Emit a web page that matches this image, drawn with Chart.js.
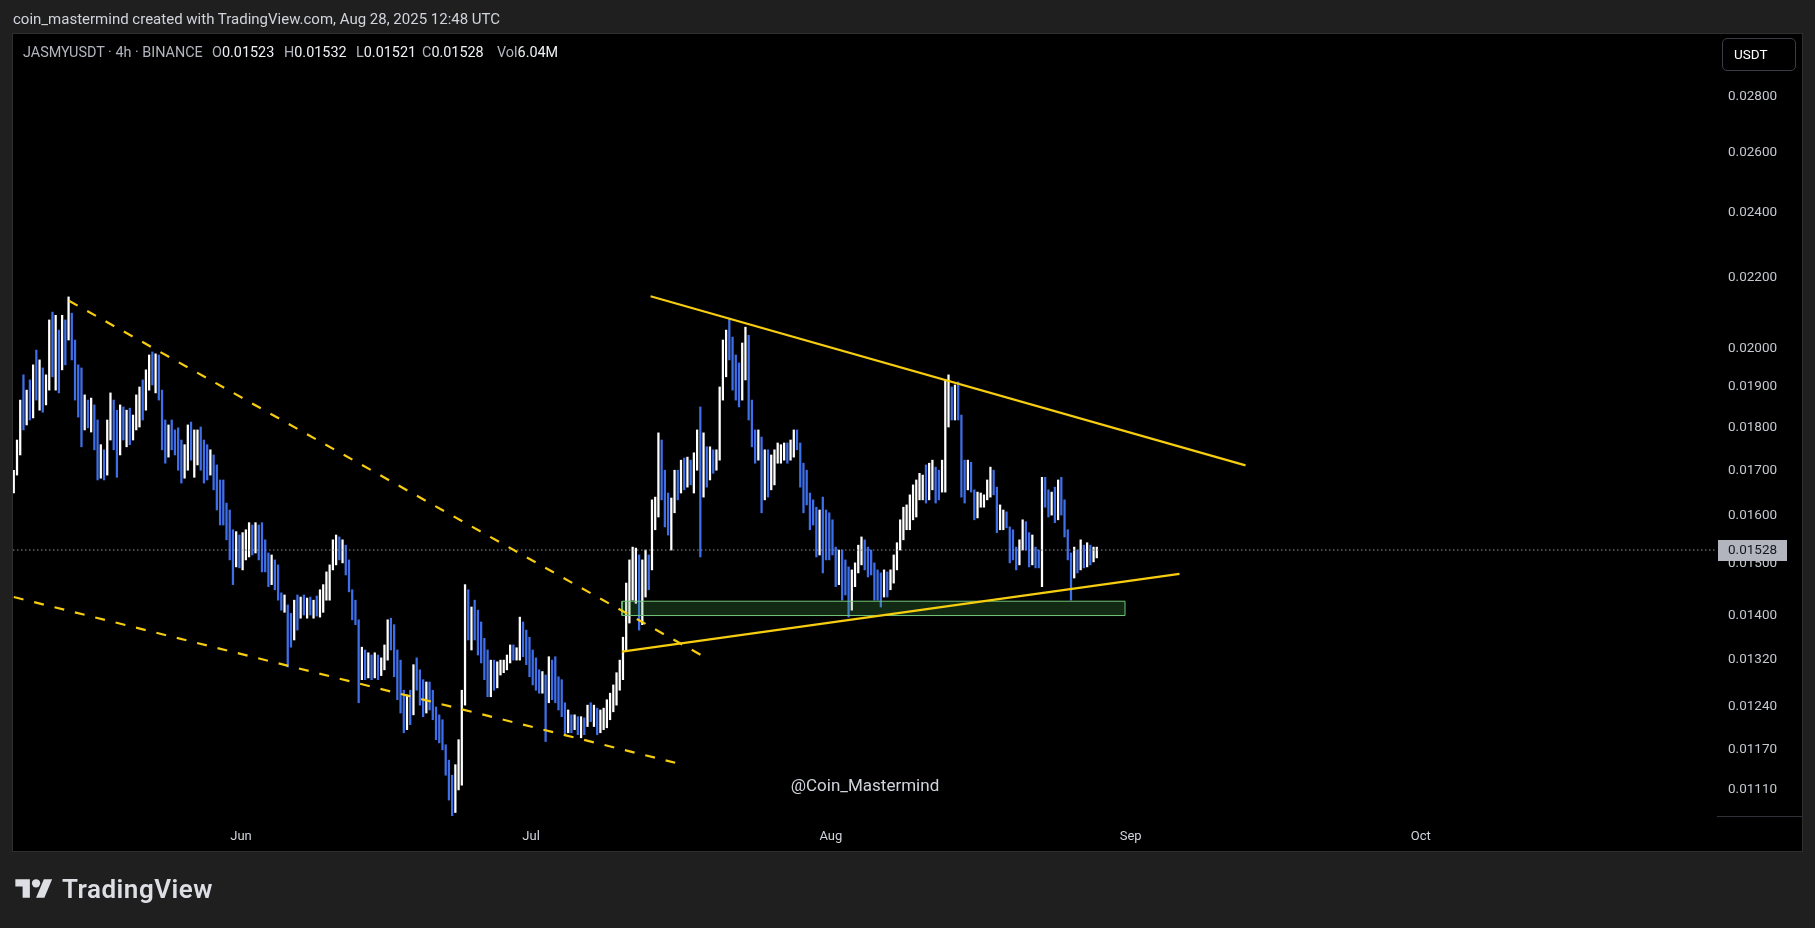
<!DOCTYPE html>
<html><head><meta charset="utf-8">
<script src="https://cdn.jsdelivr.net/npm/chart.js@4.4.1/dist/chart.umd.min.js"></script>
<style>
html,body{margin:0;padding:0;background:#1f1f1f;width:1815px;height:928px;overflow:hidden;font-family:Roboto,"Noto Sans",sans-serif;}
#panel{position:absolute;left:12px;top:33px;width:1791px;height:819px;background:#000;border:1px solid #2f2f2f;box-sizing:border-box;}
canvas{position:absolute;left:0;top:0;z-index:1;}
.t{position:absolute;z-index:2;white-space:pre;}
#credit{left:13px;top:10px;color:#d1d4dc;font-size:15px;}
.lg{top:44px;color:#b2b5be;font-size:14.4px;}
.lg b{font-weight:normal;color:#eef0f4;}
#usdt{left:1722px;top:38px;width:74px;height:33px;border:1px solid #3a3d45;border-radius:5px;box-sizing:border-box;color:#fff;font-size:13.5px;line-height:31px;padding-left:11px;}
#wm{left:865px;top:785px;transform:translate(-50%,-50%);color:#d1d4dc;font-size:17px;}
#logo{left:15px;top:874px;height:30px;display:flex;align-items:center;color:#dddfe4;font-size:26px;font-weight:600;letter-spacing:0.5px;}
</style></head>
<body>
<div id="panel"></div>
<canvas id="c" width="1815" height="928"></canvas>
<div class="t" id="credit">coin_mastermind created with TradingView.com, Aug 28, 2025 12:48 UTC</div>
<div class="t lg" style="left:23px">JASMYUSDT · 4h · BINANCE</div>
<div class="t lg" style="left:212px">O<b>0.01523</b></div>
<div class="t lg" style="left:284px">H<b>0.01532</b></div>
<div class="t lg" style="left:356px">L<b>0.01521</b></div>
<div class="t lg" style="left:422px">C<b>0.01528</b></div>
<div class="t lg" style="left:497px">Vol<b>6.04M</b></div>
<div class="t" id="usdt">USDT</div>
<div class="t" id="wm">@Coin_Mastermind</div>
<div class="t" id="logo"><svg width="38" height="29" viewBox="0 0 36 28" style="margin-right:9px"><path fill="#dddfe4" d="M14 22H7V11H0V4h14v18z"/><circle fill="#dddfe4" cx="20" cy="8" r="4"/><path fill="#dddfe4" d="M28 22h-8l7.5-18h8L28 22z"/></svg>TradingView</div>
<script>
// ---- time axis: days since 2025-05-01 00:00 UTC ----
const startDay = 7.5;          // first 8h candle: May 8, 12:00 UTC
const stepDays = 1/3;          // 8h candles
const firstOpen = 0.01656;
const highs = [
.01700,.01770,.01867,.01931,.01892,.01918,.01957,.01996,.01970,.01949,
.01931,.02078,.02100,.02091,.02050,.02091,.02078,.02143,.02097,.02023,
.01957,.01949,.01880,.01867,.01872,.01855,.01818,.01759,.01747,.01818,
.01885,.01867,.01842,.01855,.01850,.01842,.01847,.01830,.01880,.01900,
.01918,.01944,.01983,.01991,.01986,.01983,.01892,.01818,.01806,.01818,
.01794,.01799,.01770,.01759,.01806,.01813,.01794,.01794,.01801,.01770,
.01759,.01747,.01735,.01712,.01678,.01678,.01627,.01612,.01570,.01566,
.01559,.01564,.01570,.01585,.01580,.01585,.01580,.01585,.01549,.01522,
.01518,.01508,.01498,.01443,.01439,.01420,.01404,.01429,.01439,.01435,
.01439,.01433,.01435,.01429,.01437,.01449,.01459,.01484,.01498,.01549,
.01559,.01555,.01549,.01538,.01508,.01449,.01429,.01392,.01342,.01337,
.01332,.01328,.01332,.01328,.01323,.01346,.01392,.01395,.01383,.01337,
.01319,.01267,.01259,.01267,.01311,.01323,.01302,.01285,.01281,.01281,
.01267,.01239,.01226,.01218,.01178,.01154,.01131,.01147,.01186,.01267,
.01459,.01449,.01416,.01429,.01410,.01388,.01358,.01337,.01319,.01319,
.01316,.01319,.01319,.01328,.01346,.01346,.01341,.01397,.01388,.01373,
.01360,.01337,.01323,.01302,.01299,.01293,.01325,.01319,.01325,.01290,
.01285,.01246,.01234,.01226,.01226,.01223,.01223,.01221,.01242,.01246,
.01242,.01237,.01234,.01237,.01251,.01262,.01276,.01297,.01319,.01360,
.01462,.01508,.01534,.01532,.01518,.01508,.01528,.01518,.01634,.01640,
.01787,.01770,.01700,.01649,.01638,.01700,.01700,.01723,.01728,.01730,
.01723,.01740,.01794,.01850,.01787,.01754,.01754,.01747,.01747,.01900,
.02023,.02050,.02083,.02031,.01983,.01962,.02015,.02058,.02036,.01867,
.01794,.01794,.01777,.01747,.01747,.01735,.01747,.01763,.01759,.01763,
.01763,.01770,.01794,.01794,.01763,.01716,.01700,.01649,.01634,.01618,
.01612,.01640,.01612,.01606,.01591,.01534,.01528,.01528,.01508,.01494,
.01488,.01502,.01538,.01555,.01549,.01534,.01528,.01502,.01488,.01482,
.01488,.01484,.01488,.01518,.01543,.01591,.01618,.01623,.01645,.01667,
.01678,.01693,.01689,.01712,.01716,.01723,.01707,.01700,.01723,.01918,
.01931,.01900,.01905,.01913,.01830,.01723,.01723,.01718,.01656,.01651,
.01649,.01645,.01678,.01707,.01700,.01662,.01623,.01612,.01608,.01576,
.01570,.01534,.01549,.01591,.01587,.01564,.01559,.01534,.01528,.01684,
.01684,.01656,.01651,.01662,.01678,.01684,.01634,.01570,.01522,.01534,
.01528,.01549,.01538,.01543,.01538,.01534,.01534];
const lows = [
.01649,.01689,.01735,.01794,.01806,.01818,.01823,.01867,.01842,.01837,
.01855,.01892,.01926,.01892,.01885,.01944,.01957,.02023,.01970,.01867,
.01825,.01754,.01794,.01799,.01789,.01747,.01678,.01682,.01678,.01689,
.01770,.01747,.01684,.01735,.01770,.01754,.01759,.01770,.01794,.01801,
.01818,.01842,.01892,.01905,.01885,.01867,.01747,.01716,.01730,.01747,
.01735,.01700,.01671,.01682,.01700,.01723,.01684,.01712,.01700,.01671,
.01678,.01689,.01656,.01612,.01580,.01580,.01549,.01508,.01459,.01494,
.01492,.01488,.01508,.01514,.01518,.01522,.01508,.01484,.01484,.01455,
.01459,.01449,.01429,.01410,.01406,.01307,.01342,.01355,.01373,.01395,
.01401,.01395,.01401,.01395,.01399,.01397,.01406,.01429,.01429,.01488,
.01498,.01508,.01502,.01478,.01445,.01392,.01383,.01246,.01285,.01285,
.01288,.01285,.01288,.01285,.01292,.01302,.01319,.01337,.01290,.01251,
.01229,.01197,.01202,.01210,.01226,.01267,.01242,.01223,.01229,.01234,
.01218,.01186,.01181,.01170,.01131,.01094,.01068,.01076,.01109,.01116,
.01242,.01355,.01337,.01355,.01328,.01314,.01285,.01256,.01256,.01267,
.01271,.01293,.01297,.01302,.01314,.01319,.01319,.01319,.01325,.01311,
.01290,.01276,.01267,.01262,.01262,.01183,.01246,.01251,.01246,.01234,
.01223,.01194,.01197,.01197,.01202,.01194,.01189,.01194,.01207,.01215,
.01207,.01194,.01197,.01202,.01205,.01218,.01231,.01242,.01267,.01285,
.01337,.01386,.01429,.01423,.01373,.01383,.01435,.01449,.01488,.01570,
.01597,.01634,.01576,.01559,.01528,.01606,.01634,.01649,.01656,.01662,
.01667,.01649,.01700,.01514,.01640,.01662,.01678,.01693,.01700,.01723,
.01867,.01926,.01970,.01892,.01867,.01850,.01867,.01918,.01818,.01754,
.01716,.01723,.01606,.01634,.01640,.01656,.01667,.01716,.01716,.01723,
.01716,.01723,.01730,.01747,.01662,.01606,.01623,.01570,.01580,.01514,
.01518,.01482,.01508,.01508,.01518,.01455,.01459,.01429,.01439,.01397,
.01410,.01455,.01482,.01498,.01488,.01474,.01478,.01429,.01429,.01416,
.01435,.01435,.01449,.01462,.01488,.01528,.01549,.01570,.01570,.01591,
.01597,.01634,.01634,.01627,.01634,.01656,.01627,.01634,.01651,.01651,
.01801,.01818,.01818,.01818,.01640,.01627,.01656,.01651,.01591,.01595,
.01618,.01618,.01634,.01640,.01645,.01564,.01570,.01570,.01574,.01502,
.01508,.01488,.01498,.01528,.01528,.01494,.01498,.01492,.01492,.01455,
.01618,.01597,.01601,.01585,.01591,.01601,.01555,.01508,.01429,.01472,
.01482,.01488,.01492,.01494,.01498,.01504,.01512];
const closes = [
.01682,.01747,.01842,.01818,.01855,.01830,.01918,.01892,.01931,.01867,
.01905,.02050,.01970,.02023,.01918,.02050,.02023,.02064,.01996,.01892,
.01842,.01818,.01855,.01818,.01842,.01770,.01700,.01723,.01700,.01794,
.01842,.01770,.01747,.01818,.01794,.01818,.01782,.01818,.01842,.01880,
.01867,.01918,.01970,.01944,.01970,.01880,.01770,.01747,.01770,.01759,
.01747,.01723,.01700,.01747,.01770,.01735,.01747,.01759,.01723,.01712,
.01700,.01723,.01678,.01634,.01601,.01591,.01570,.01538,.01508,.01549,
.01508,.01538,.01549,.01559,.01538,.01570,.01528,.01508,.01498,.01478,
.01488,.01459,.01439,.01420,.01429,.01392,.01383,.01420,.01410,.01420,
.01410,.01425,.01410,.01420,.01406,.01429,.01449,.01468,.01488,.01538,
.01549,.01528,.01538,.01488,.01459,.01401,.01392,.01311,.01319,.01305,
.01319,.01299,.01311,.01302,.01316,.01337,.01373,.01355,.01311,.01267,
.01251,.01218,.01234,.01226,.01302,.01285,.01259,.01242,.01267,.01251,
.01226,.01194,.01186,.01178,.01139,.01109,.01087,.01124,.01154,.01251,
.01429,.01392,.01401,.01383,.01346,.01337,.01302,.01267,.01302,.01281,
.01302,.01305,.01316,.01319,.01337,.01334,.01337,.01373,.01355,.01328,
.01302,.01293,.01285,.01276,.01285,.01251,.01311,.01285,.01267,.01251,
.01234,.01210,.01218,.01205,.01218,.01205,.01215,.01202,.01231,.01221,
.01226,.01210,.01221,.01231,.01242,.01251,.01259,.01285,.01311,.01346,
.01439,.01478,.01508,.01508,.01429,.01468,.01498,.01488,.01591,.01623,
.01723,.01678,.01612,.01591,.01623,.01678,.01667,.01700,.01689,.01712,
.01700,.01723,.01770,.01700,.01723,.01700,.01723,.01712,.01735,.01867,
.01970,.02023,.01996,.01944,.01918,.01880,.01970,.02009,.01842,.01782,
.01747,.01770,.01678,.01700,.01678,.01712,.01723,.01735,.01747,.01752,
.01735,.01759,.01770,.01759,.01689,.01656,.01645,.01612,.01601,.01549,
.01591,.01570,.01549,.01538,.01528,.01478,.01488,.01468,.01459,.01429,
.01478,.01488,.01518,.01528,.01508,.01498,.01488,.01459,.01449,.01439,
.01468,.01459,.01478,.01508,.01528,.01570,.01601,.01608,.01623,.01634,
.01645,.01667,.01678,.01645,.01678,.01700,.01667,.01656,.01667,.01867,
.01880,.01842,.01867,.01830,.01700,.01678,.01700,.01678,.01623,.01634,
.01634,.01638,.01667,.01689,.01678,.01591,.01591,.01601,.01587,.01538,
.01528,.01518,.01538,.01570,.01549,.01518,.01538,.01518,.01508,.01656,
.01645,.01623,.01634,.01612,.01656,.01623,.01570,.01518,.01488,.01518,
.01498,.01528,.01518,.01532,.01512,.01522,.01528];

// axis
const monthDays = [31, 61, 92, 123, 153];
const monthLabels = ['Jun', 'Jul', 'Aug', 'Sep', 'Oct'];
const priceTicks = [0.028,0.026,0.024,0.022,0.020,0.019,0.018,0.017,0.016,0.015,0.014,0.0132,0.0124,0.0117,0.0111];
const xRange = [7.42, 183.64];
const yRange = [0.01071, 0.03045];

// drawings (day, price)
const dashUpperX = [13.2, 79.2],  dashUpperY = [0.02132, 0.01322];
const dashLowerX = [7.5, 75.9],   dashLowerY = [0.01435, 0.01150];
const triUpperX  = [73.35, 134.88], triUpperY = [0.02145, 0.01711];
const triLowerX  = [70.4, 128.05],  triLowerY = [0.01334, 0.01480];
const zoneX = [70.4, 122.42], zoneY = [0.01400, 0.01427];

const lastClose = closes[closes.length - 1];
const candleData = [], candleColors = [];
for (let i = 0; i < closes.length; i++) {
  const open = i === 0 ? firstOpen : closes[i - 1];
  candleData.push({x: startDay + i * stepDays, y: [lows[i], highs[i]]});
  candleColors.push(closes[i] >= open ? '#ffffff' : '#3f6fe8');
}
const pts = (xs, ys) => xs.map((x, i) => ({x, y: ys[i]}));
const YEL = '#f7cd10';

const overlay = {
  id: 'overlay',
  afterDraw(chart) {
    const {ctx, chartArea, scales: {y}} = chart;
    ctx.save();
    ctx.strokeStyle = '#2f3238'; ctx.lineWidth = 1;
    ctx.beginPath(); ctx.moveTo(chartArea.right, chartArea.bottom + 0.5); ctx.lineTo(1802, chartArea.bottom + 0.5); ctx.stroke();
    const py = y.getPixelForValue(lastClose);
    ctx.fillStyle = '#b2b5be';
    ctx.fillRect(chartArea.right + 1, Math.round(py) - 10, 69, 21);
    ctx.fillStyle = '#131722'; ctx.font = '13.5px Roboto'; ctx.textBaseline = 'middle';
    ctx.fillText(lastClose.toFixed(5), chartArea.right + 11, Math.round(py) + 1);
    ctx.restore();
  }
};

new Chart(document.getElementById('c'), {
  type: 'bar',
  data: {
    datasets: [
      {type: 'bar', data: candleData, backgroundColor: candleColors, barThickness: 1.6, order: 10, grouped: false},
      {type: 'line', data: [{x: xRange[0], y: lastClose}, {x: xRange[1], y: lastClose}], borderColor: '#8f939c', borderWidth: 1, borderDash: [1.5, 2.5], pointRadius: 0, order: 9},
      {type: 'line', data: [{x: zoneX[0], y: zoneY[0]}, {x: zoneX[1], y: zoneY[0]}, {x: zoneX[1], y: zoneY[1]}, {x: zoneX[0], y: zoneY[1]}, {x: zoneX[0], y: zoneY[0]}],
        borderColor: '#72c479', borderWidth: 1, backgroundColor: 'rgba(76,175,80,0.24)', fill: 'shape', pointRadius: 0, tension: 0, order: 3},
      {type: 'line', data: pts(dashUpperX, dashUpperY), borderColor: YEL, borderWidth: 2.2, borderDash: [10, 11], pointRadius: 0, order: 2},
      {type: 'line', data: pts(dashLowerX, dashLowerY), borderColor: YEL, borderWidth: 2.2, borderDash: [10, 11], pointRadius: 0, order: 2},
      {type: 'line', data: pts(triUpperX, triUpperY), borderColor: YEL, borderWidth: 2.2, pointRadius: 0, order: 1},
      {type: 'line', data: pts(triLowerX, triLowerY), borderColor: YEL, borderWidth: 2.2, pointRadius: 0, order: 1}
    ]
  },
  options: {
    responsive: false, animation: false, devicePixelRatio: 1,
    layout: {padding: {left: 13, right: 13, top: 34, bottom: 77}},
    plugins: {legend: {display: false}, tooltip: {enabled: false}},
    scales: {
      x: {
        type: 'linear', min: xRange[0], max: xRange[1], offset: false,
        grid: {display: false, drawTicks: false}, border: {display: false},
        afterBuildTicks: (a) => { a.ticks = monthDays.map(v => ({value: v})); },
        afterFit: (a) => { a.height = 35; },
        ticks: {autoSkip: false, maxRotation: 0, padding: 13, color: '#d1d4dc', font: {family: 'Roboto', size: 13},
          callback: (v) => monthLabels[monthDays.indexOf(v)] }
      },
      y: {
        type: 'logarithmic', position: 'right', min: yRange[0], max: yRange[1],
        grid: {display: false, drawTicks: false}, border: {display: false},
        afterBuildTicks: (a) => { a.ticks = priceTicks.map(v => ({value: v})); },
        afterFit: (a) => { a.width = 85; },
        ticks: {autoSkip: false, padding: 11, color: '#c5c8cf', font: {family: 'Roboto', size: 13.5},
          callback: (v) => Number(v).toFixed(5)}
      }
    }
  },
  plugins: [overlay]
});
</script>
</body></html>
